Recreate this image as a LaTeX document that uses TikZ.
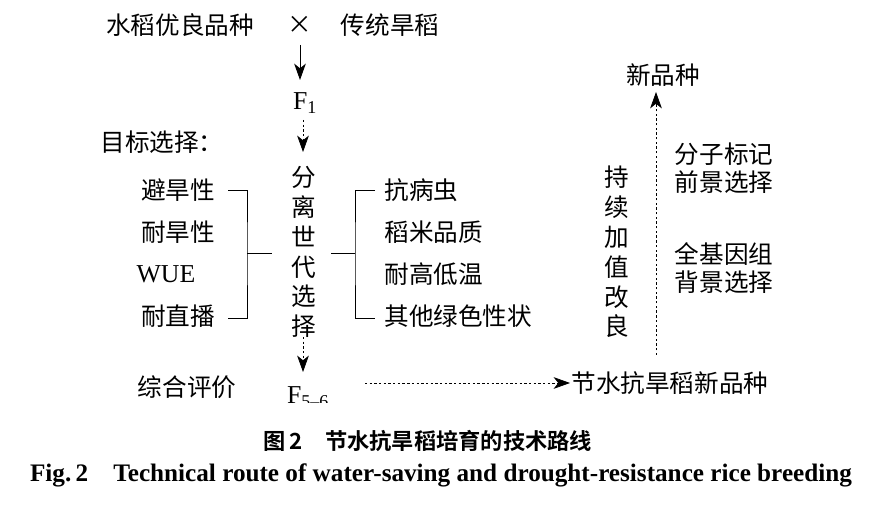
\documentclass[tikz,border=0pt]{standalone}
\usepackage{fontspec}
\setmainfont{Liberation Serif}
\newfontfamily\cjk{Noto Sans CJK SC}[BoldFont={Noto Sans CJK SC Bold}]
\usetikzlibrary{arrows.meta}
\tikzset{
  txt/.style={font=\cjk\fontsize{21}{24}\selectfont, inner sep=1pt},
  lat/.style={txt, font=\fontsize{22}{24}\selectfont},
  vtxt/.style={txt, align=center, font=\cjk\fontsize{21}{25.5}\selectfont},
  arr/.style={-{Stealth[length=14pt,width=10pt,inset=4pt]}, thick},
  darr/.style={-{Stealth[length=14pt,width=10pt,inset=4pt,line width=0.6pt]}, thin, dash pattern=on 2pt off 2pt},
}
\begin{document}
\begin{tikzpicture}[x=0.03cm,y=-0.03cm]
        \useasboundingbox (0,0) rectangle (882,516);
        \begin{scope}
            \clip (0,0) rectangle (882,403);
            \node[txt] (p1) at (180, 25) {水稻优良品种};
            \node[txt] (x) at (300, 25) {×};
            \node[txt] (p2) at (390, 25) {传统旱稻};
            \node[lat] (F1) at (305, 103) {F\textsubscript{1}};
            \node[txt] (goal) at (162, 142) {目标选择：};
            \node[txt] (a1) at (178, 190) {避旱性};
            \node[txt] (a2) at (178, 232) {耐旱性};
            \node[lat] (a3) at (166, 274) {WUE};
            \node[txt] (a4) at (178, 316) {耐直播};
            \node[vtxt] (mid) at (304, 252) {分\\离\\世\\代\\选\\择};
            \node[txt, anchor=west] (b1) at (383, 190) {抗病虫};
            \node[txt, anchor=west] (b2) at (383, 232) {稻米品质};
            \node[txt, anchor=west] (b3) at (383, 274) {耐高低温};
            \node[txt, anchor=west] (b4) at (383, 316) {其他绿色性状};
            \node[txt] (eval) at (187, 387) {综合评价};
            \node[lat] (F5) at (308, 397) {F\textsubscript{5--6}};
            \node[txt, anchor=west] (res) at (570, 383) {节水抗旱稻新品种};
            \node[txt] (new) at (663, 75) {新品种};
            \node[vtxt] (keep) at (617, 252) {持\\续\\加\\值\\改\\良};
            \node[txt, align=left, font=\cjk\fontsize{21}{24}\selectfont] (fg) at (724, 168) {分子标记\\前景选择};
            \node[txt, align=left, font=\cjk\fontsize{21}{24}\selectfont] (bg) at (724, 268) {全基因组\\背景选择};
            \coordinate (ls) at (247, 253);
            \coordinate (rs) at (355, 253);
            \coordinate (vs) at (656, 355);
        \end{scope}
        % connectors
        \draw[arr] (300, 45) -- (300, 80);
        \draw[darr] (303, 120) -- (303, 152);
        \draw[thin] (228, 190) -| (ls) |- (228, 318);
        \draw[thin] (ls) -- (272, 253);
        \draw[thin] (375, 190) -| (rs) |- (375, 318);
        \draw[thin] (rs) -- (331, 253);
        \draw[darr] (303, 337) -- (303, 372);
        \draw[darr] (365, 383) -- (res.west);
        \draw[darr] (vs) -- (656, 92);
        % caption
        \node[font=\cjk\bfseries\fontsize{19}{22}\selectfont] (cap) at (428, 441) {图\,2\quad 节水抗旱稻培育的技术路线};
        \node[font=\bfseries\fontsize{21.5}{24}\selectfont] (ecap) at (441, 475) {Fig.\,2\quad Technical route of water-saving and drought-resistance rice breeding};
\end{tikzpicture}
\end{document}
